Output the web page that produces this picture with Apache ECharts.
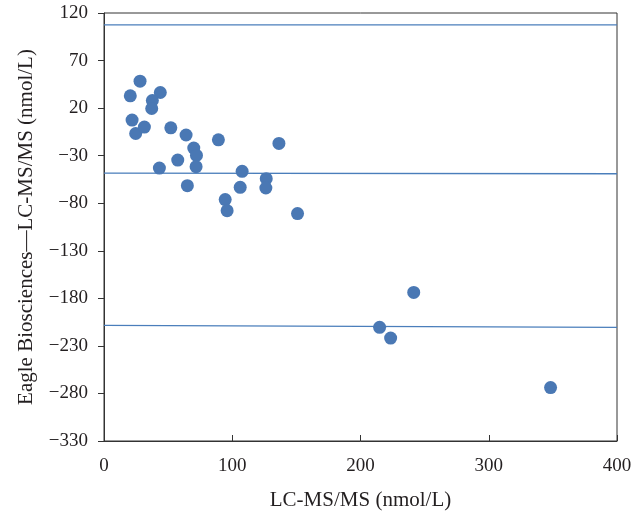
<!DOCTYPE html>
<html><head><meta charset="utf-8">
<script src="https://cdn.jsdelivr.net/npm/echarts@6/dist/echarts.min.js"></script>
<style>html,body{margin:0;padding:0;background:#fff}#c{width:643px;height:516px}</style>
</head><body><div id="c"></div>
<script>
const xValues = [20.5,28.1,43.9,37.7,37.2,21.9,24.7,31.5,52.1,64,43.2,57.5,70,72.1,71.8,65,89.2,107.7,106.2,94.5,96,126.5,126.2,136.4,150.9,241.5,214.9,223.5,348.2];
const yValues = [32.9,48.3,36.4,28,19.6,7.4,-6.7,0.1,-0.7,-8.3,-43,-34.6,-22,-29.7,-41.6,-61.5,-13.3,-46.5,-63.3,-76.2,-87.8,-54.2,-64,-17.1,-90.9,-173.8,-210.5,-221.8,-273.8];
const upperLimit = [[0,107.5],[400,107.6]];
const meanLine = [[0,-48.3],[400,-49]];
const lowerLimit = [[0,-208.4],[400,-210.5]];
const xTicks = [0,100,200,300,400];
const yTicks = [120,70,20,-30,-80,-130,-180,-230,-280,-330];

const font = '"Liberation Serif","DejaVu Serif",serif';
const txt = '#231f20';
const lineStyle = {color:'#4a7ebb', width:1.3};
const lineSeries = d => ({type:'line', data:d, symbol:'none', lineStyle:lineStyle, silent:true, z:1});
const chart = echarts.init(document.getElementById('c'));
chart.setOption({
  animation:false,
  grid:{left:104, right:26, top:13, bottom:74, show:true, borderColor:'#333', borderWidth:1},
  xAxis:{type:'value', min:xTicks[0], max:xTicks[xTicks.length-1], interval:100,
    name:'LC-MS/MS (nmol/L)', nameLocation:'middle', nameGap:49,
    nameTextStyle:{fontFamily:font, fontSize:21, color:txt},
    axisLine:{onZero:false, lineStyle:{color:'#333'}}, axisTick:{inside:true, length:6, lineStyle:{color:'#333'}},
    axisLabel:{fontFamily:font, fontSize:19, color:txt, margin:16},
    splitLine:{show:false}},
  yAxis:{type:'value', min:yTicks[yTicks.length-1], max:yTicks[0], interval:50,
    name:'Eagle Biosciences\u2014LC-MS/MS (nmol/L)', nameLocation:'middle', nameGap:67,
    nameTextStyle:{fontFamily:font, fontSize:21, color:txt},
    axisLine:{show:true, onZero:false, lineStyle:{color:'#333'}}, axisTick:{show:true, length:6, lineStyle:{color:'#333'}},
    axisLabel:{fontFamily:font, fontSize:19, color:txt, margin:16,
      formatter:v=>String(v).replace('-','\u2212')},
    splitLine:{show:false}},
  series:[
    lineSeries(upperLimit), lineSeries(meanLine), lineSeries(lowerLimit),
    {type:'scatter', data:xValues.map((x,i)=>[x,yValues[i]]), symbolSize:13,
      itemStyle:{color:'#4a78b4', opacity:1}, z:3}
  ]
});
</script></body></html>
